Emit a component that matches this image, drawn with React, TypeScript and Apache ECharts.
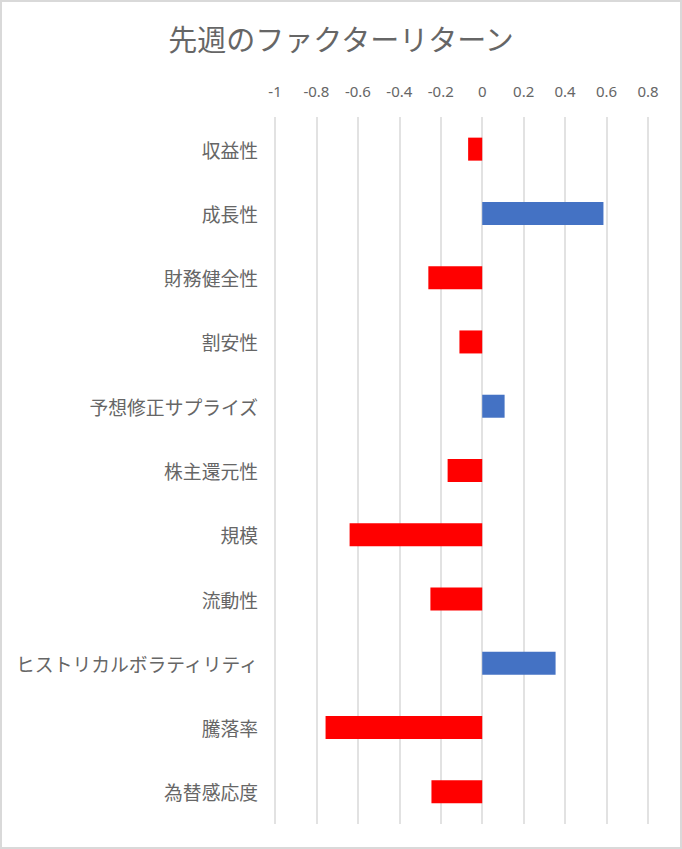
import * as echarts from "echarts";
import { useEffect, useRef } from "react";

const chartTitle = "先週のファクターリターン";

const factors = [
  "収益性",
  "成長性",
  "財務健全性",
  "割安性",
  "予想修正サプライズ",
  "株主還元性",
  "規模",
  "流動性",
  "ヒストリカルボラティリティ",
  "騰落率",
  "為替感応度",
];

const returns = [-0.068, 0.585, -0.26, -0.11, 0.108, -0.167, -0.64, -0.25, 0.354, -0.756, -0.245];

const axisMin = -1;
const axisMax = 0.8;
const axisStep = 0.2;

const POSITIVE = "#4472C4";
const NEGATIVE = "#FF0000";
const TEXT = "#666666";
const GRID = "#d9d9d9";

export default function App() {
  const ref = useRef<HTMLDivElement | null>(null);

  useEffect(() => {
    if (!ref.current) return;
    const chart = echarts.init(ref.current, undefined, { renderer: "svg" });
    chart.setOption({
      animation: false,
      backgroundColor: "#ffffff",
      title: {
        text: chartTitle,
        left: "center",
        top: 16,
        textStyle: {
          fontFamily: "Noto Sans CJK JP",
          fontSize: 29,
          fontWeight: "normal",
          color: TEXT,
        },
      },
      grid: { left: 273, right: 32, top: 115, bottom: 23 },
      xAxis: {
        type: "value",
        position: "top",
        min: axisMin,
        max: axisMax,
        interval: axisStep,
        axisLine: { show: false },
        axisTick: { show: false },
        axisLabel: {
          margin: 19,
          fontFamily: "Noto Sans",
          fontSize: 15,
          color: TEXT,
          formatter: (v: number) => String(Math.round(v * 10) / 10),
        },
        splitLine: { lineStyle: { color: GRID, width: 1.5 } },
      },
      yAxis: {
        type: "category",
        inverse: true,
        data: factors,
        axisLine: { show: false },
        axisTick: { show: false },
        axisLabel: {
          margin: 17,
          fontFamily: "Noto Sans CJK JP",
          fontSize: 18.8,
          color: TEXT,
        },
      },
      series: [
        {
          type: "bar",
          barWidth: 23,
          data: returns.map((v) => ({
            value: v,
            itemStyle: { color: v >= 0 ? POSITIVE : NEGATIVE },
          })),
        },
      ],
    });
    return () => chart.dispose();
  }, []);

  return (
    <div
      style={{
        position: "absolute",
        left: 0,
        top: 0,
        width: 682,
        height: 849,
        boxSizing: "border-box",
        border: `2px solid ${GRID}`,
        background: "#ffffff",
      }}
    >
      <div ref={ref} style={{ width: 678, height: 845 }} />
    </div>
  );
}
